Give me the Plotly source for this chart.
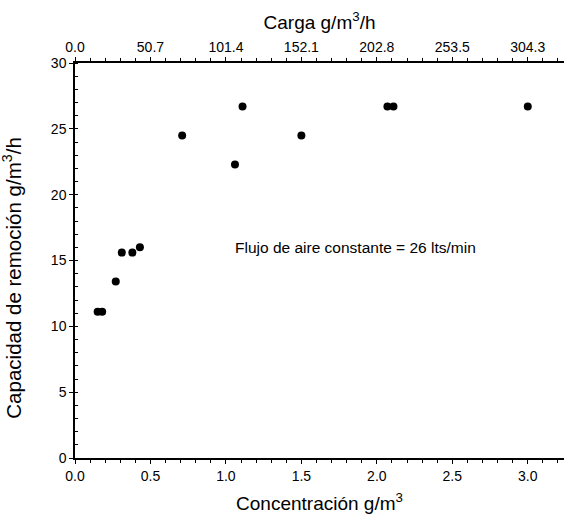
import plotly.graph_objects as go

# Measured removal capacity vs. inlet concentration
concentracion = [0.15, 0.18, 0.27, 0.31, 0.38, 0.43, 0.71, 1.06, 1.11, 1.50, 2.07, 2.11, 3.00]
capacidad = [11.1, 11.1, 13.4, 15.6, 15.6, 16.0, 24.5, 22.3, 26.7, 24.5, 26.7, 26.7, 26.7]

# Bottom axis ticks (concentration) and the matching load labels on the top axis
conc_ticks = [0.0, 0.5, 1.0, 1.5, 2.0, 2.5, 3.0]
conc_labels = ["0.0", "0.5", "1.0", "1.5", "2.0", "2.5", "3.0"]
carga_labels = ["0.0", "50.7", "101.4", "152.1", "202.8", "253.5", "304.3"]
y_ticks = [0, 5, 10, 15, 20, 25, 30]

FONT = "Arial, 'Liberation Sans', sans-serif"
X_RANGE = [0, 3.24]

fig = go.Figure()
fig.add_trace(go.Scatter(
    x=concentracion, y=capacidad, mode="markers",
    marker=dict(symbol="circle", size=8, color="black"),
    showlegend=False, hoverinfo="x+y",
))
# Empty trace so the top (load) axis is created
fig.add_trace(go.Scatter(x=[], y=[], xaxis="x2", yaxis="y", showlegend=False, hoverinfo="skip"))

axis_common = dict(
    showgrid=False, zeroline=False, showline=True, linecolor="black", linewidth=1.5,
    ticks="outside", ticklen=4, tickwidth=1.2, tickcolor="black",
    tickfont=dict(family=FONT, size=14, color="black"),
)
title_font = dict(family=FONT, size=19, color="black")

fig.update_layout(
    width=565, height=524,
    margin=dict(l=75, r=1, t=63, b=66),
    plot_bgcolor="white", paper_bgcolor="white",
    font=dict(family=FONT, color="black"),
    xaxis=dict(
        **axis_common, range=X_RANGE, tickmode="array",
        tickvals=conc_ticks, ticktext=conc_labels,
        minor=dict(dtick=0.1, ticks="outside", ticklen=3, tickcolor="black", tickwidth=1),
        title=dict(text="Concentración g/m<sup>3</sup>", font=title_font, standoff=14),
    ),
    xaxis2=dict(
        **axis_common, range=X_RANGE, overlaying="x", side="top", anchor="y",
        tickmode="array", tickvals=conc_ticks, ticktext=carga_labels,
        minor=dict(dtick=0.1, ticks="outside", ticklen=3, tickcolor="black", tickwidth=1),
        title=dict(text="Carga g/m<sup>3</sup>/h", font=title_font, standoff=4),
    ),
    yaxis=dict(
        **axis_common, range=[0, 30], tickmode="array", tickvals=y_ticks,
        minor=dict(dtick=1, ticks="inside", ticklen=3, tickcolor="black", tickwidth=1),
    ),
)

# Vertical axis title, set slightly below the plot's mid-height
fig.add_annotation(
    x=-0.128, y=0.455, xref="paper", yref="paper", xanchor="center", yanchor="middle",
    text="Capacidad de remoción g/m<sup>3</sup>/h", textangle=-90, showarrow=False,
    font=dict(family=FONT, size=20.5, color="black"),
)

fig.add_annotation(
    x=1.05, y=16.0, xref="x", yref="y", xanchor="left", yanchor="middle",
    text="Flujo de aire constante = 26 lts/min", showarrow=False,
    font=dict(family=FONT, size=15.5, color="black"),
)

fig.write_html("out.html")
